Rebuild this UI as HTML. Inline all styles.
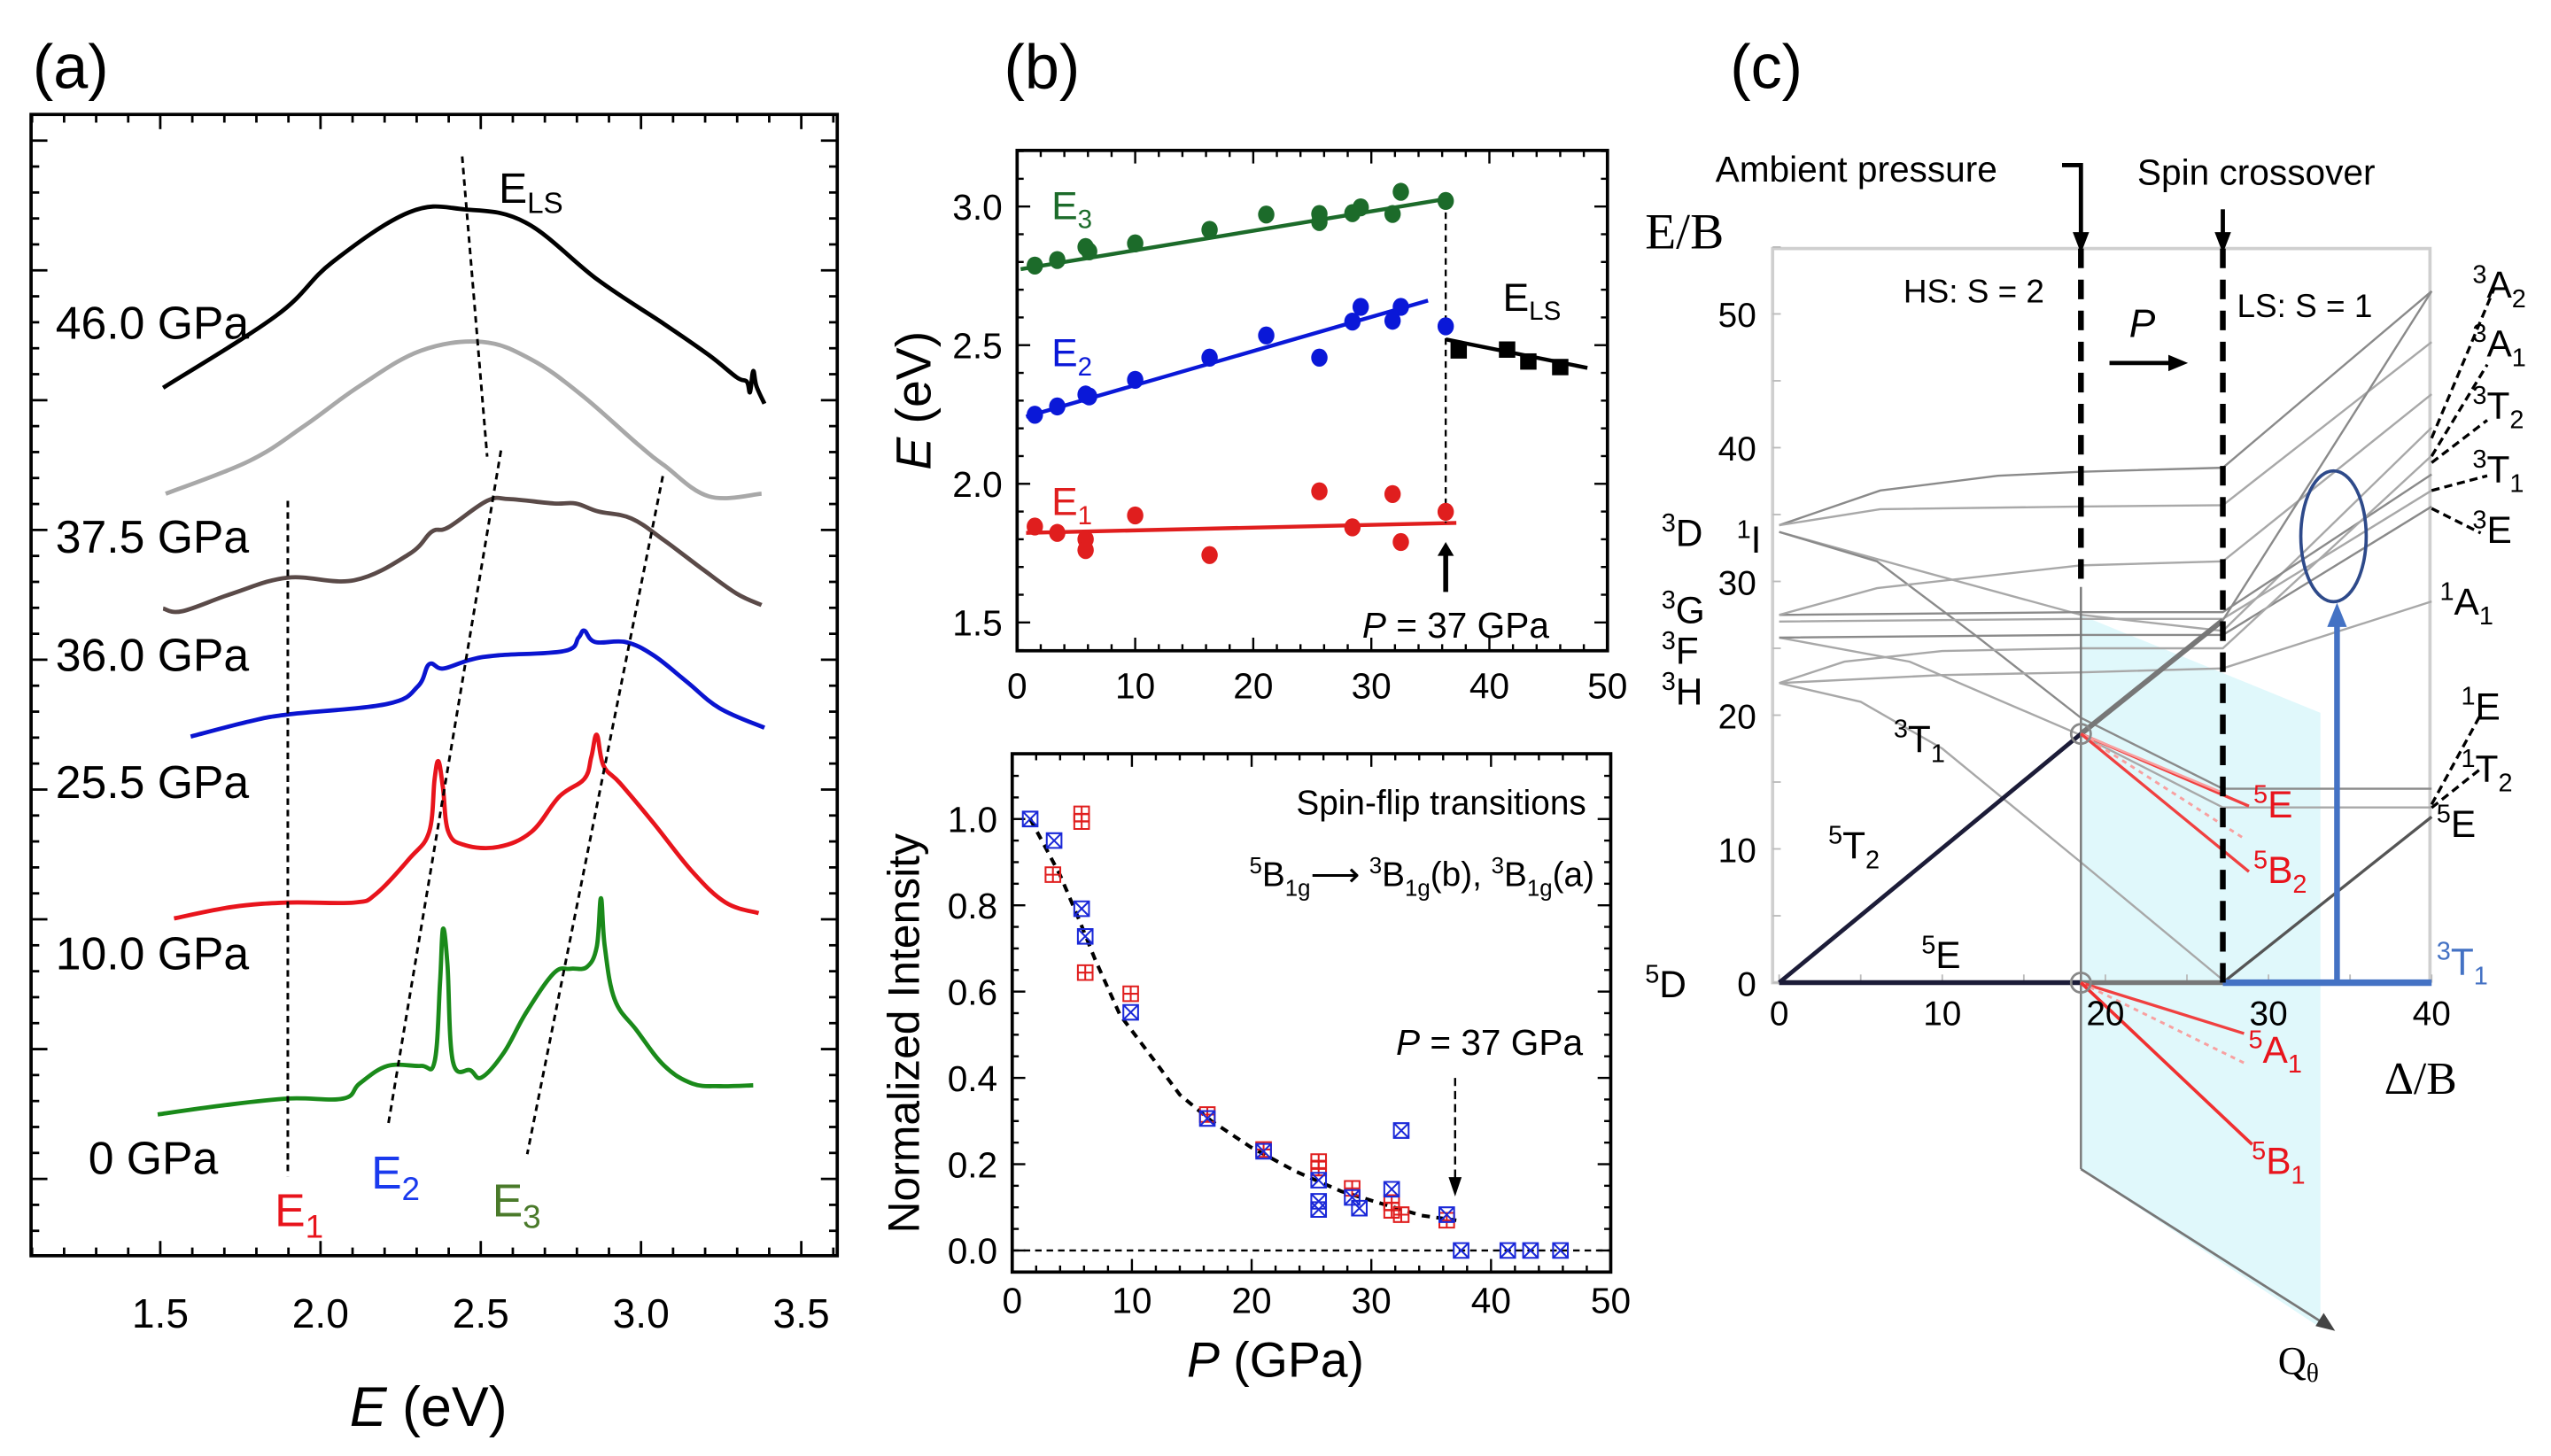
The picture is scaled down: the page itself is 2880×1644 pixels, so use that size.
<!DOCTYPE html>
<html><head><meta charset="utf-8"><style>
html,body{margin:0;padding:0;background:#fff}
svg{display:block}
text{font-family:"Liberation Sans",sans-serif}
.serif{font-family:"Liberation Serif",serif}
</style></head><body>
<svg id="fig" xmlns="http://www.w3.org/2000/svg" width="2880" height="1644" viewBox="0 0 1560 890.5" preserveAspectRatio="none">
<g id="pa"></g>
<g id="pb"></g>
<g id="pc"></g>
<g id="pd"></g>
</svg>
<script>
// ---------- Panel (a) spectra data [E (eV), intensity (arb., offset)] ----------
const spec46 = [[1.509,9.83],[1.863,10.65],[2.036,11.25],[2.278,11.82],[2.451,11.85],[2.641,11.70],[2.866,11.05],[3.073,10.55],[3.212,10.2],[3.298,9.95],[3.33,9.9],[3.34,9.78],[3.35,10.02],[3.36,9.85],[3.385,9.65]];
const specGray = [[1.517,8.63],[1.777,9.0],[1.950,9.4],[2.122,9.85],[2.313,10.25],[2.503,10.35],[2.658,10.15],[2.814,9.75],[2.987,9.2],[3.073,8.95],[3.212,8.6],[3.376,8.63]];
const spec375 = [[1.509,7.33],[1.569,7.30],[1.725,7.50],[1.898,7.68],[2.105,7.65],[2.278,7.95],[2.347,8.2],[2.399,8.25],[2.52,8.55],[2.589,8.57],[2.728,8.52],[2.796,8.52],[2.866,8.43],[2.97,8.35],[3.073,8.1],[3.194,7.77],[3.298,7.5],[3.376,7.37]];
const spec36 = [[1.595,5.88],[1.777,6.05],[1.898,6.13],[2.209,6.25],[2.304,6.45],[2.339,6.7],[2.382,6.65],[2.468,6.75],[2.555,6.8],[2.762,6.85],[2.805,7.0],[2.823,7.08],[2.857,6.95],[2.952,6.95],[3.039,6.8],[3.143,6.5],[3.246,6.2],[3.385,5.98]];
const spec255 = [[1.543,3.82],[1.725,3.95],[1.898,4.0],[2.105,4.0],[2.174,4.1],[2.278,4.5],[2.339,4.8],[2.356,5.4],[2.368,5.6],[2.382,5.3],[2.399,4.8],[2.451,4.65],[2.555,4.63],[2.658,4.8],[2.745,5.2],[2.823,5.4],[2.845,5.65],[2.862,5.9],[2.883,5.55],[2.935,5.35],[3.039,4.9],[3.16,4.35],[3.264,4.0],[3.367,3.88]];
const spec0 = [[1.492,1.6],[1.69,1.7],[1.898,1.78],[2.071,1.78],[2.122,1.95],[2.209,2.15],[2.313,2.15],[2.356,2.2],[2.373,3.1],[2.382,3.7],[2.396,3.3],[2.413,2.2],[2.468,2.1],[2.503,2.02],[2.572,2.3],[2.641,2.75],[2.728,3.2],[2.779,3.25],[2.831,3.27],[2.862,3.5],[2.875,4.05],[2.887,3.5],[2.918,2.9],[2.987,2.55],[3.073,2.15],[3.16,1.95],[3.246,1.92],[3.35,1.93]];
const guideE1 = [[1.898,8.55],[1.898,0.9]];
const guideE2 = [[2.563,9.12],[2.212,1.5]];
const guideE3 = [[3.068,8.83],[2.645,1.15]];
const guideELS = [[2.442,12.45],[2.52,9.05]];
const aTicks = [1.5,2.0,2.5,3.0,3.5];
const aTickLabels = ["1.5","2.0","2.5","3.0","3.5"];
const pressureLabels = ["46.0 GPa","37.5 GPa","36.0 GPa","25.5 GPa","10.0 GPa","0 GPa"];
const pressureLabelI = [10.57,8.15,6.81,5.37,3.43,1.11];

// ---------- Panel (b) top: peak energies ----------
const e3P = [1.5,3.4,5.8,6.1,10.0,16.3,21.1,25.6,25.6,28.4,29.1,31.8,32.5,36.3];
const e3E = [2.787,2.807,2.854,2.838,2.867,2.916,2.971,2.973,2.944,2.976,2.997,2.973,3.053,3.02];
const e2P = [1.5,3.4,5.8,6.1,10.0,16.3,21.1,25.6,28.4,29.1,31.8,32.5,36.3];
const e2E = [2.249,2.279,2.322,2.315,2.375,2.455,2.535,2.455,2.585,2.638,2.588,2.638,2.568];
const e1P = [1.5,3.4,5.8,5.8,10.0,16.3,25.6,28.4,31.8,32.5,36.3];
const e1E = [1.846,1.823,1.80,1.761,1.886,1.743,1.973,1.843,1.963,1.79,1.899];
const elsP = [37.4,41.5,43.3,46.0];
const elsE = [2.481,2.484,2.441,2.421];
const fitE3 = [[0.3,2.774],[36.3,3.027]];
const fitE2 = [[0.76,2.242],[34.8,2.661]];
const fitE1 = [[0.76,1.823],[37.2,1.859]];
const fitELS = [[36.3,2.521],[48.3,2.418]];
const bxTicks = [0,10,20,30,40,50];
const byTicks = [1.5,2.0,2.5,3.0];
const byTickLabels = ["1.5","2.0","2.5","3.0"];

// ---------- Panel (b) bottom: normalized intensity ----------
const blueP = [1.5,3.5,5.8,6.1,9.9,16.3,21.0,25.6,25.6,25.6,28.4,29.0,31.7,32.5,36.3,37.5,41.4,43.3,45.8];
const blueI = [1.0,0.95,0.792,0.728,0.552,0.306,0.23,0.163,0.114,0.095,0.123,0.098,0.142,0.278,0.083,0,0,0,0];
const redP = [5.8,5.8,3.4,6.1,9.9,16.3,21.0,25.6,25.6,28.4,31.7,31.7,32.5,36.3];
const redI = [1.012,0.994,0.871,0.644,0.595,0.315,0.234,0.206,0.191,0.144,0.111,0.093,0.083,0.07];
const fitCurve = [[1.5,1.0],[2.8,0.933],[4.0,0.87],[5.7,0.759],[6.9,0.676],[9.0,0.546],[11.5,0.454],[14.0,0.361],[16.6,0.301],[19.9,0.24],[23.7,0.183],[27.5,0.137],[30.8,0.109],[34.2,0.081],[37.1,0.07]];
const iyTicks = [0,0.2,0.4,0.6,0.8,1.0];
const iyTickLabels = ["0.0","0.2","0.4","0.6","0.8","1.0"];

// ---------- Panel (c): Tanabe–Sugano levels [Δ/B, E/B] ----------
const lvl1 = [[0,34.2],[6.2,36.8],[13.4,37.9],[18.5,38.2],[27.2,38.5],[40,51.7]];
const lvl2 = [[0,34.2],[6.2,35.4],[18.5,35.6],[27.2,35.7],[40,47.9]];
const lvl3 = [[0,33.7],[8,31],[18.5,27.5],[27.2,26.3],[40,41.5]];
const lvl4 = [[0,33.7],[6,31.5],[12,26],[18.5,19.8],[27.2,14.5],[40,14.5]];
const lvl5 = [[0,22.4],[5,21],[10,17.5],[18.5,9],[27.2,0.2]];
const lvl6 = [[0,25.8],[8,24],[18.5,18.5],[27.2,13.1],[40,13.1]];
const lvl7 = [[0,27.5],[18.5,27.7],[27.2,27.7],[40,38.0]];
const lvl8 = [[0,27.0],[18.5,27.2],[27.2,27.2],[40,36.8]];
const lvl9 = [[0,27.5],[6,29.5],[18.5,31.2],[27.2,31.5],[40,44]];
const lvl10 = [[0,25.8],[18.5,26.0],[27.2,26.0],[40,35.6]];
const lvl11 = [[0,22.4],[4,24],[10,24.8],[18.5,25],[27.2,25],[40,39.4]];
const lvl12 = [[0,22.4],[10,23],[18.5,23.2],[27.2,23.5],[40,28.5]];
const lvl13 = [[27.2,27.1],[40,51.7]];
const lvl5E = [[27.2,0],[40,12.4]];
const t2Line = [[0,0],[18.5,18.6]];
const t2LineLS = [[18.5,18.6],[27.2,27.1]];
const cxTicks = [0,10,20,30,40];
const cyTicks = [0,10,20,30,40,50];

const NS="http://www.w3.org/2000/svg";
function el(tag, parent, attrs){const e=document.createElementNS(NS,tag);for(const k in attrs)e.setAttribute(k,attrs[k]);parent.appendChild(e);return e;}
function pathD(pts,fx,fy){return pts.map((p,i)=>(i?'L':'M')+fx(p[0]).toFixed(2)+' '+fy(p[1]).toFixed(2)).join(' ');}
function smoothD(pts,fx,fy){const P=pts.map(p=>[fx(p[0]),fy(p[1])]);let d='M'+P[0][0].toFixed(2)+' '+P[0][1].toFixed(2);
  for(let i=0;i<P.length-1;i++){const p0=P[i-1]||P[i],p1=P[i],p2=P[i+1],p3=P[i+2]||p2;const t=0.18;
    const c1=[p1[0]+(p2[0]-p0[0])*t,p1[1]+(p2[1]-p0[1])*t],c2=[p2[0]-(p3[0]-p1[0])*t,p2[1]-(p3[1]-p1[1])*t];
    d+=`C${c1[0].toFixed(2)} ${c1[1].toFixed(2)} ${c2[0].toFixed(2)} ${c2[1].toFixed(2)} ${p2[0].toFixed(2)} ${p2[1].toFixed(2)}`;}
  return d;}
function txt(parent,x,y,s,size,anchor,fill,extra){const t=el('text',parent,Object.assign({x:x,y:y,'font-size':size,'text-anchor':anchor||'start',fill:fill||'#000'},extra||{}));t.textContent=s;return t;}
function sub(t,base,subs,sz,sup){
  t.textContent='';
  if(sup){const a=el('tspan',t,{'font-size':sz,dy:-sz*0.45});a.textContent=sup;const b=el('tspan',t,{dy:sz*0.45});b.textContent=base;}
  else {const b=el('tspan',t,{});b.textContent=base;}
  if(subs){const c=el('tspan',t,{'font-size':sz,dy:sz*0.35});c.textContent=subs;}
  return t;}

// ================= Panel (a) =================
const A=document.getElementById('pa');
const xa=E=>98+(E-1.5)*196, ya=I=>768-I*54;
let e;
e=el('rect',A,{x:19,y:70,width:493,height:698,fill:'none',stroke:'#000','stroke-width':2});


for(let k=0;k<=25;k++){const E=1.1+k*0.1;const x=xa(E);const major=Math.abs((E*10)%5)<0.01||Math.abs((E*10)%5-5)<0.01;const L=major?9:5;
  el('line',A,{x1:x,y1:768,x2:x,y2:768-L,stroke:'#000','stroke-width':1.5});
  el('line',A,{x1:x,y1:70,x2:x,y2:70+L,stroke:'#000','stroke-width':1.5});}
for(let k=0;k<44;k++){const I=0.87+(k-2)*0.294;if(I<0.05||I>12.9)continue;const y=ya(I);const major=((k-2)%5+5)%5===0;const L=major?10:5;
  el('line',A,{x1:19,y1:y,x2:19+L,y2:y,stroke:'#000','stroke-width':1.5});
  el('line',A,{x1:512,y1:y,x2:512-L,y2:y,stroke:'#000','stroke-width':1.5});}
aTicks.forEach((v,i)=>{const t=txt(A,xa(v),812,aTickLabels[i],25,'middle');
  
  });
const specs=[[spec46,'#000','spectrum-46gpa'],[specGray,'#a8a8a8','spectrum-gray'],[spec375,'#5a4a48','spectrum-37-5gpa'],[spec36,'#0a14d0','spectrum-36gpa'],[spec255,'#e8141c','spectrum-25-5gpa'],[spec0,'#1a8a1a','spectrum-0gpa']];
specs.forEach(s=>{const p=el('path',A,{d:smoothD(s[0],xa,ya),fill:'none',stroke:s[1],'stroke-width':2.6,'stroke-linejoin':'round'});
  
  });
[guideE1,guideE2,guideE3,guideELS].forEach((g,i)=>{const p=el('path',A,{d:pathD(g,xa,ya),fill:'none',stroke:'#000','stroke-width':1.6,'stroke-dasharray':'4 3'});
  
  });
pressureLabels.forEach((s,i)=>{const t=txt(A,i===5?54:34,ya(pressureLabelI[i])+10,s,28,'start');
  
  });
e=sub(txt(A,168,750,'',28,'start','#e8141c'),'E','1',20);  
e=sub(txt(A,227,727,'',28,'start','#1a3aee'),'E','2',20);  
e=sub(txt(A,301,744,'',28,'start','#4a7a2a'),'E','3',20);  
e=sub(txt(A,305,124,'',26,'start','#000'),'E','LS',18);  
e=txt(A,262,872,'',34,'middle'); {const a=el('tspan',e,{'font-style':'italic'});a.textContent='E';const b=el('tspan',e,{});b.textContent=' (eV)';}
 
e=txt(A,20,54,'(a)',38,'start');  

// ================= Panel (b) top =================
const B=document.getElementById('pb');
const xb=P=>622+P*7.22, yb=E=>398-(E-1.398)*169.6;
e=el('rect',B,{x:622,y:92,width:361,height:306,fill:'none',stroke:'#000','stroke-width':2});
 
for(let P=0;P<=50;P+=2){const x=xb(P),L=P%10===0?8:4;
  el('line',B,{x1:x,y1:398,x2:x,y2:398-L,stroke:'#000','stroke-width':1.3});
  el('line',B,{x1:x,y1:92,x2:x,y2:92+L,stroke:'#000','stroke-width':1.3});}
for(let k=14;k<=32;k++){const E=k/10,y=yb(E),L=k%5===0?8:4;
  el('line',B,{x1:622,y1:y,x2:622+L,y2:y,stroke:'#000','stroke-width':1.3});
  el('line',B,{x1:983,y1:y,x2:983-L,y2:y,stroke:'#000','stroke-width':1.3});}
bxTicks.forEach(v=>{const t=txt(B,xb(v),427,String(v),22,'middle');});
byTicks.forEach((v,i)=>{const t=txt(B,613,yb(v)+8,byTickLabels[i],22,'end');});
[[fitE3,'#1c6b2a'],[fitE2,'#0a18d8'],[fitE1,'#e01e1e'],[fitELS,'#000']].forEach(f=>{const p=el('path',B,{d:pathD(f[0],xb,yb),stroke:f[1],'stroke-width':2.4,fill:'none'});
   });
e=el('line',B,{x1:xb(36.3),y1:yb(3.02),x2:xb(36.3),y2:yb(1.859),stroke:'#000','stroke-width':1.3,'stroke-dasharray':'4 3'});
 
[[e3P,e3E,'#1c6b2a','e3-point'],[e2P,e2E,'#0a18d8','e2-point'],[e1P,e1E,'#e01e1e','e1-point']].forEach(s=>{s[0].forEach((P,i)=>{const c=el('ellipse',B,{cx:xb(P),cy:yb(s[1][i]),rx:5,ry:5.5,fill:s[2]});
   });});
elsP.forEach((P,i)=>{const r=el('rect',B,{x:xb(P)-5,y:yb(elsE[i])-5,width:10,height:10,fill:'#000'});
   });
e=el('line',B,{x1:xb(36.3),y1:yb(1.61),x2:xb(36.3),y2:yb(1.75),stroke:'#000','stroke-width':3});
 
e=el('polygon',B,{points:`${xb(36.3)-5},${yb(1.74)} ${xb(36.3)+5},${yb(1.74)} ${xb(36.3)},${yb(1.79)}`,fill:'#000'});
 
e=sub(txt(B,643,134,'',24,'start','#1c6b2a'),'E','3',16);  
e=sub(txt(B,643,224,'',24,'start','#0a18d8'),'E','2',16);  
e=sub(txt(B,643,315,'',24,'start','#e01e1e'),'E','1',16);  
e=sub(txt(B,919,190,'',24,'start','#000'),'E','LS',16);  
e=txt(B,833,390,'',22,'start'); {const a=el('tspan',e,{'font-style':'italic'});a.textContent='P';const b=el('tspan',e,{});b.textContent=' = 37 GPa';}
 
e=txt(B,0,0,'',30,'middle',null,{transform:'translate(569,245) rotate(-90)'}); {const a=el('tspan',e,{'font-style':'italic'});a.textContent='E';const b=el('tspan',e,{});b.textContent=' (eV)';}
 
e=txt(B,614,54,'(b)',38,'start');  

// ================= Panel (b) bottom =================
const C=document.getElementById('pc');
const xc=P=>619+P*7.32, yc=I=>778-(I+0.05)*263.9;
e=el('rect',C,{x:619,y:461,width:366,height:317,fill:'none',stroke:'#000','stroke-width':2});
 
for(let P=0;P<=50;P+=2){const x=xc(P),L=P%10===0?8:4;
  el('line',C,{x1:x,y1:778,x2:x,y2:778-L,stroke:'#000','stroke-width':1.3});
  el('line',C,{x1:x,y1:461,x2:x,y2:461+L,stroke:'#000','stroke-width':1.3});}
for(let k=0;k<=22;k++){const I=k*0.05,y=yc(I),L=k%4===0?8:4;
  el('line',C,{x1:619,y1:y,x2:619+L,y2:y,stroke:'#000','stroke-width':1.3});
  el('line',C,{x1:985,y1:y,x2:985-L,y2:y,stroke:'#000','stroke-width':1.3});}
bxTicks.forEach(v=>{const t=txt(C,xc(v),803,String(v),22,'middle');});
iyTicks.forEach((v,i)=>{const t=txt(C,610,yc(v)+8,iyTickLabels[i],22,'end');});
e=el('line',C,{x1:xc(0),y1:yc(0),x2:xc(50),y2:yc(0),stroke:'#000','stroke-width':1.3,'stroke-dasharray':'4 3'});
 
e=el('path',C,{d:pathD(fitCurve,xc,yc),fill:'none',stroke:'#000','stroke-width':2.2,'stroke-dasharray':'5 4'});
 
redP.forEach((P,i)=>{const x=xc(P),y=yc(redI[i]);
  const g=el('path',C,{d:`M${x-4.5} ${y-4.5}h9v9h-9zM${x} ${y-4.5}v9M${x-4.5} ${y}h9`,fill:'none',stroke:'#e01e1e','stroke-width':1.1});
   });
blueP.forEach((P,i)=>{const x=xc(P),y=yc(blueI[i]);
  const g=el('path',C,{d:`M${x-4.5} ${y-4.5}h9v9h-9zM${x-4.5} ${y-4.5}l9 9M${x+4.5} ${y-4.5}l-9 9`,fill:'none',stroke:'#1a28d8','stroke-width':1.1});
   });
e=el('line',C,{x1:xc(37),y1:yc(0.4),x2:xc(37),y2:yc(0.14),stroke:'#000','stroke-width':1.3,'stroke-dasharray':'5 3'});
 
e=el('polygon',C,{points:`${xc(37)-4},${yc(0.17)} ${xc(37)+4},${yc(0.17)} ${xc(37)},${yc(0.125)}`,fill:'#000'});
 
e=txt(C,970,498,'Spin-flip transitions',21,'end');  
e=txt(C,975,542,'',21,'end');
(function(){const parts=['5','B','1g','⟶ ','3','B','1g','(b), ','3','B','1g','(a)'];
 let cur=0;parts.forEach(p=>{const a=el('tspan',e,{});a.textContent=p;let target=0;
  if(p==='5'||p==='3'){target=-8;a.setAttribute('font-size',14);} else if(p==='1g'){target=6;a.setAttribute('font-size',14);}
  a.setAttribute('dy',target-cur);cur=target;});})();
 
e=txt(C,968,645,'',22,'end'); {const a=el('tspan',e,{'font-style':'italic'});a.textContent='P';const b=el('tspan',e,{});b.textContent=' = 37 GPa';}
 
e=txt(C,780,842,'',30,'middle'); {const a=el('tspan',e,{'font-style':'italic'});a.textContent='P';const b=el('tspan',e,{});b.textContent=' (GPa)';}
 
e=txt(C,0,0,'Normalized Intensity',27,'middle',null,{transform:'translate(562,632) rotate(-90)'});
 

// ================= Panel (c) =================
const D=document.getElementById('pd');
const xd=v=>1088+v*9.975, yd=v=>601-v*8.18;
e=el('polygon',D,{points:'1272,376 1419,436 1419,812 1272,715',fill:'#e0f8fb'});
 
e=el('rect',D,{x:1084,y:152,width:402,height:449,fill:'none',stroke:'#cfcfcf','stroke-width':2});
 
for(let v=0;v<=40;v+=5){const x=xd(v);el('line',D,{x1:x,y1:601,x2:x,y2:596,stroke:'#bbb','stroke-width':1});}
for(let v=0;v<=55;v+=5){const y=yd(v);el('line',D,{x1:1084,y1:y,x2:1089,y2:y,stroke:'#bbb','stroke-width':1});}
[lvl1,lvl2,lvl3,lvl4,lvl5,lvl6,lvl7,lvl8,lvl9,lvl10,lvl11,lvl12,lvl13].forEach((L,i)=>{const p=el('path',D,{d:pathD(L,xd,yd),fill:'none',stroke:i%3===0?'#8a8a8a':'#a8a8a8','stroke-width':1.3});
   });
e=el('path',D,{d:pathD(lvl5E,xd,yd),fill:'none',stroke:'#555','stroke-width':1.8});
 
e=el('path',D,{d:pathD(t2Line,xd,yd),fill:'none',stroke:'#1c1c38','stroke-width':2.6});
 
e=el('path',D,{d:pathD(t2LineLS,xd,yd),fill:'none',stroke:'#777','stroke-width':3.2});
 
e=el('line',D,{x1:xd(0),y1:yd(0),x2:xd(18.5),y2:yd(0),stroke:'#1c1c38','stroke-width':3});
 
e=el('line',D,{x1:xd(18.5),y1:yd(0),x2:xd(27.2),y2:yd(0),stroke:'#777','stroke-width':3});
 
e=el('line',D,{x1:xd(27.2),y1:yd(0),x2:xd(40),y2:yd(0),stroke:'#4472c4','stroke-width':4});
 
e=el('line',D,{x1:xd(18.5),y1:359,x2:xd(18.5),y2:715,stroke:'#777','stroke-width':1.3});
 
e=el('line',D,{x1:xd(18.5),y1:715,x2:1422,y2:810,stroke:'#777','stroke-width':1.5});
 
e=el('polygon',D,{points:'1428,814 1416,811 1421,803',fill:'#444'});
 
[[[18.5,18.6],[28.8,13.2],'#f04040',1.8,''],[[18.5,18.6],[27,14.3],'#f8a0a0',1.4,''],[[18.5,18.6],[28.6,10.7],'#f8a0a0',1.6,'3 3'],[[18.5,18.6],[28.8,8.3],'#f04040',1.8,''],
 [[18.5,0],[28.5,-3.8],'#f04040',1.8,''],[[18.5,0],[28.5,-6],'#f8a0a0',1.6,'3 3'],[[18.5,0],[29,-12.1],'#f03030',2,'']].forEach(r=>{
  const p=el('line',D,{x1:xd(r[0][0]),y1:yd(r[0][1]),x2:xd(r[1][0]),y2:yd(r[1][1]),stroke:r[2],'stroke-width':r[3],'stroke-dasharray':r[4]});
   });
[[18.5,18.6],[18.5,0]].forEach(c=>{const k=el('circle',D,{cx:xd(c[0]),cy:yd(c[1]),r:6,fill:'none',stroke:'#888','stroke-width':1.5});
   });
e=el('line',D,{x1:xd(18.5),y1:152,x2:xd(18.5),y2:359,stroke:'#000','stroke-width':3.5,'stroke-dasharray':'12 7'});
 
e=el('line',D,{x1:xd(27.2),y1:152,x2:xd(27.2),y2:601,stroke:'#000','stroke-width':3.5,'stroke-dasharray':'12 7'});
 
e=el('path',D,{d:`M1261 101H${xd(18.5)}V145`,fill:'none',stroke:'#000','stroke-width':2.6});
 
e=el('polygon',D,{points:`${xd(18.5)-5},142 ${xd(18.5)+5},142 ${xd(18.5)},155`,fill:'#000'});
 
e=el('line',D,{x1:xd(27.2),y1:128,x2:xd(27.2),y2:145,stroke:'#000','stroke-width':2.6});
 
e=el('polygon',D,{points:`${xd(27.2)-5},142 ${xd(27.2)+5},142 ${xd(27.2)},155`,fill:'#000'});
 
e=el('line',D,{x1:1290,y1:222,x2:1328,y2:222,stroke:'#000','stroke-width':2.6});
 
e=el('polygon',D,{points:'1326,217 1326,227 1338,222',fill:'#000'});
 
e=el('ellipse',D,{cx:1427,cy:328,rx:20,ry:40,fill:'none',stroke:'#2e4a8a','stroke-width':2});
 
e=el('line',D,{x1:xd(34.2),y1:yd(0),x2:xd(34.2),y2:yd(26.8),stroke:'#4472c4','stroke-width':3.5});
 
e=el('polygon',D,{points:`${xd(34.2)-6},${yd(26.6)} ${xd(34.2)+6},${yd(26.6)} ${xd(34.2)},${yd(28.4)}`,fill:'#4472c4'});
 
[[1487,268,1525,177],[1487,279,1521,223],[1487,283,1521,257],[1487,300,1521,291],[1487,311,1517,326],[1487,492,1517,437],[1487,494,1516,471]].forEach(l=>{
  const p=el('line',D,{x1:l[0],y1:l[1],x2:l[2],y2:l[3],stroke:'#000','stroke-width':1.8,'stroke-dasharray':'5 3'});
   });
cxTicks.forEach(v=>{const t=txt(D,xd(v),627,String(v),21,'middle');});
cyTicks.forEach(v=>{const t=txt(D,1074,yd(v)+8,String(v),21,'end');});
function term(x,y,sup,base,subs,fill,size,name){const t=txt(D,x,y,'',size||23,'start',fill||'#000');const s=(size||23)*0.68;
  const a=el('tspan',t,{'font-size':s,dy:-9});a.textContent=sup;const b=el('tspan',t,{dy:9});b.textContent=base;
  if(subs){const c=el('tspan',t,{'font-size':s,dy:6});c.textContent=subs;}
  
  return t;}
const terms=[[1016,334,'3','D','','#000','term-3d'],[1062,338,'1','I','','#000','term-1i'],[1016,381,'3','G','','#000','term-3g'],[1016,406,'3','F','','#000','term-3f'],[1016,431,'3','H','','#000','term-3h'],[1006,610,'5','D','','#000','term-5d'],
 [1158,460,'3','T','1','#000','term-3t1-hs'],[1118,525,'5','T','2','#000','term-5t2'],[1175,592,'5','E','','#000','term-5e-hs'],
 [1378,500,'5','E','','#e8141c','term-5e-red'],[1378,540,'5','B','2','#e8141c','term-5b2'],[1375,650,'5','A','1','#e8141c','term-5a1'],[1377,718,'5','B','1','#e8141c','term-5b1'],
 [1512,182,'3','A','2','#000','term-3a2'],[1512,218,'3','A','1','#000','term-3a1'],[1512,256,'3','T','2','#000','term-3t2'],[1512,295,'3','T','1','#000','term-3t1'],[1512,332,'3','E','','#000','term-3e'],
 [1492,376,'1','A','1','#000','term-1a1'],[1505,440,'1','E','','#000','term-1e'],[1505,478,'1','T','2','#000','term-1t2'],[1490,512,'5','E','','#000','term-5e-ls'],[1490,596,'3','T','1','#4472c4','term-3t1-blue']];
terms.forEach(r=>{const t=term(r[0],r[1],r[2],r[3],r[4],r[5],23,r[6]);
  });
e=txt(D,1049,111,'Ambient pressure',22,'start');  
e=txt(D,1307,113,'Spin crossover',22,'start');  
e=txt(D,1164,185,'HS: S = 2',20,'start');  
e=txt(D,1368,194,'LS: S = 1',20,'start');  
e=txt(D,1302,206,'P',24,'start','#000',{'font-style':'italic'});  
e=txt(D,1006,152,'E/B',31,'start','#000',{class:'serif'});  
e=txt(D,1458,669,'Δ/B',28,'start','#000',{class:'serif'});  
e=txt(D,1393,840,'',24,'start','#000',{class:'serif'}); {const a=el('tspan',e,{});a.textContent='Q';const b=el('tspan',e,{'font-size':16,dy:5});b.textContent='θ';}
 
e=txt(D,1058,54,'(c)',38,'start');  
</script>
</body></html>
